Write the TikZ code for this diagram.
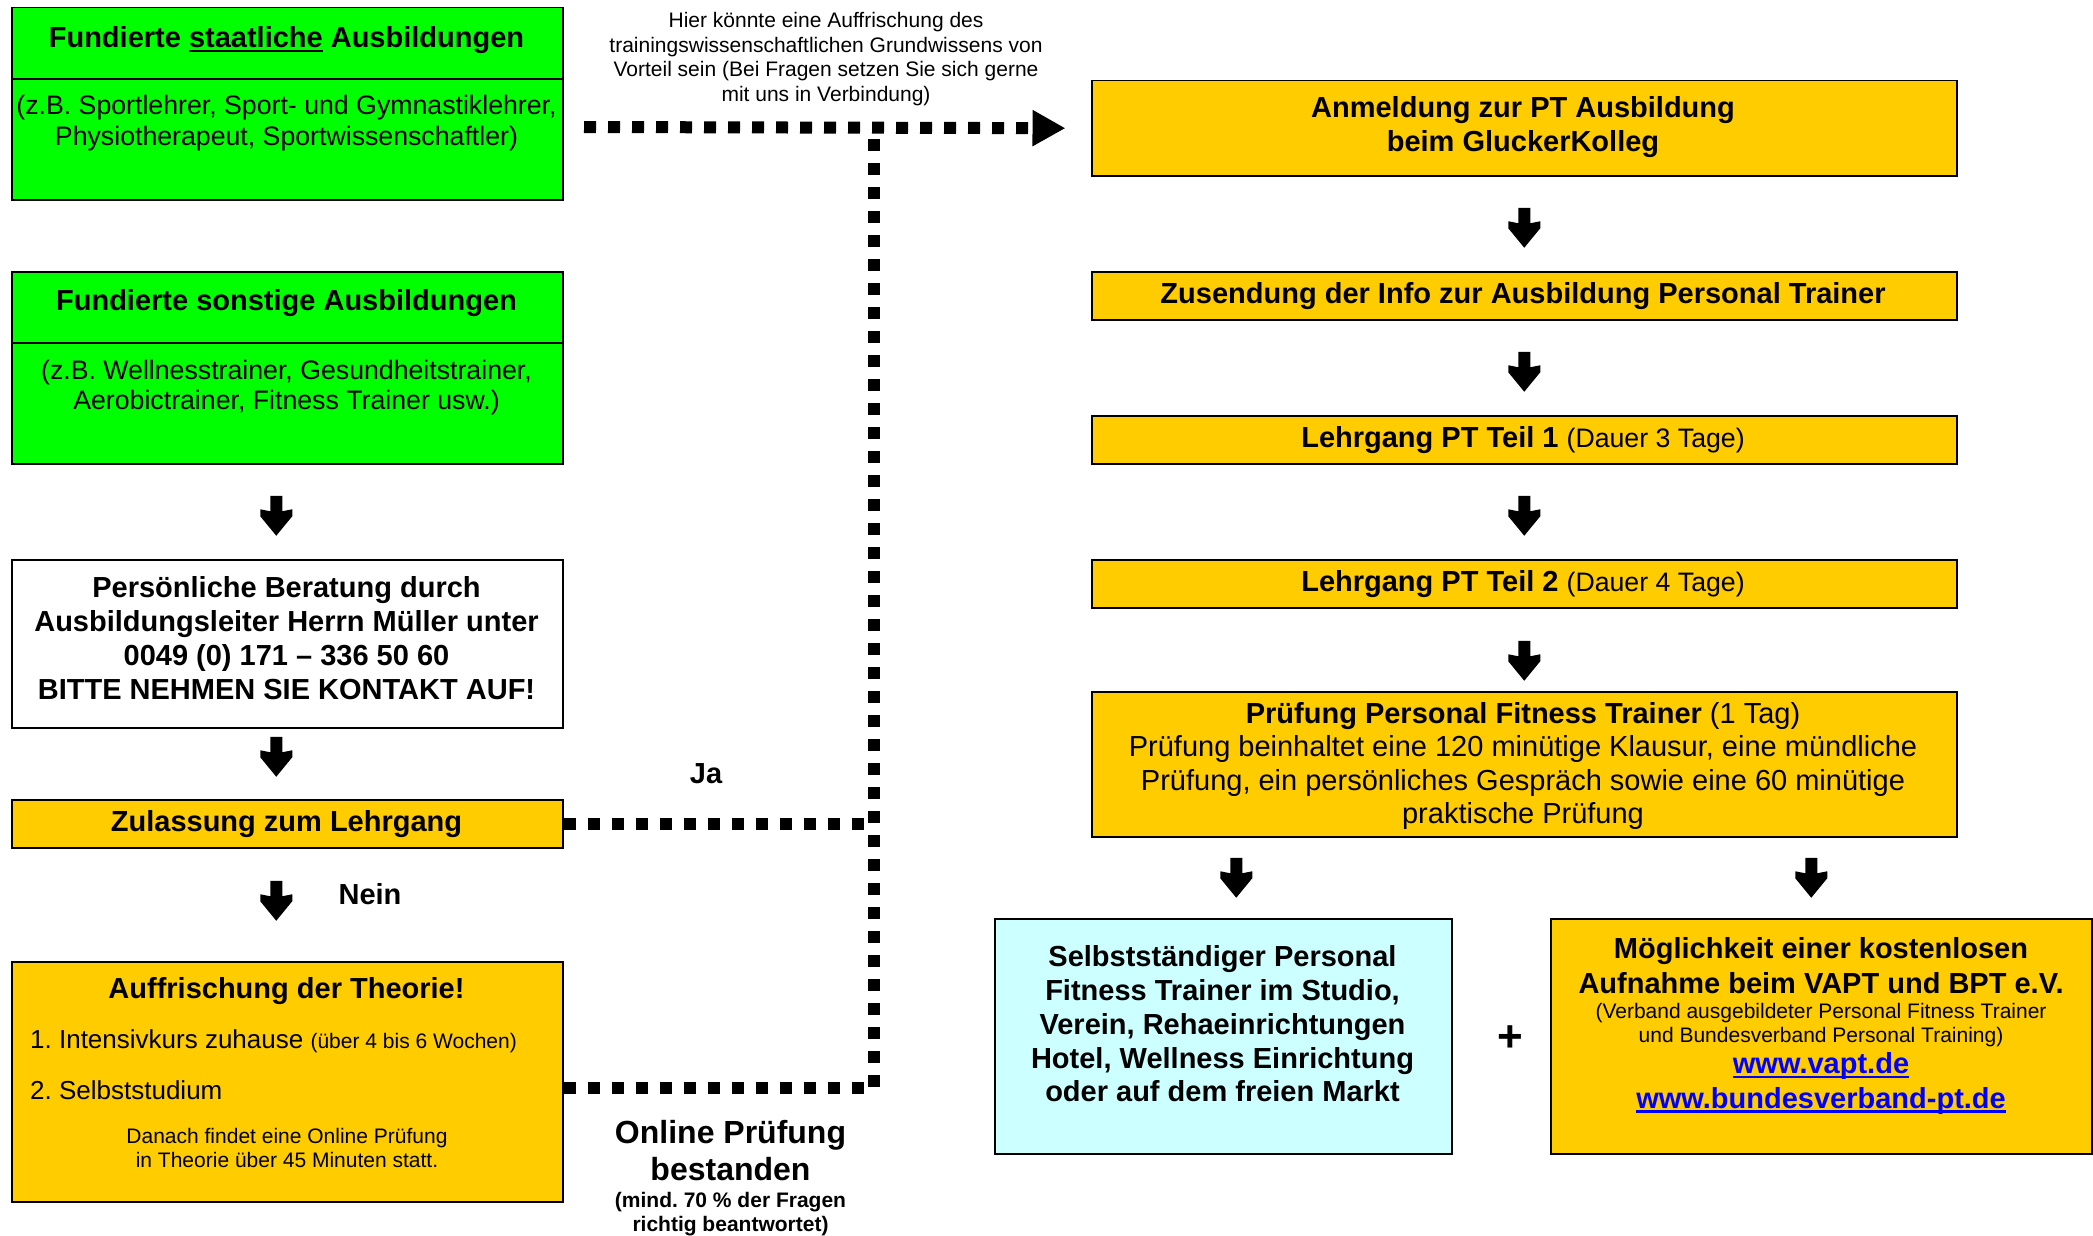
\documentclass[tikz,border=0pt]{standalone}
\usepackage{fontspec}
\setmainfont{Liberation Sans}
\usetikzlibrary{arrows.meta,calc}
\definecolor{ggreen}{RGB}{0,255,0}
\definecolor{ygold}{RGB}{255,204,0}
\definecolor{lcyan}{RGB}{204,255,255}
\definecolor{lblue}{RGB}{0,0,255}
\newcommand\szH{\fontsize{29}{34}\selectfont}
\newcommand\szR{\fontsize{26.7}{30.7}\selectfont}
\newcommand\szI{\fontsize{26}{30}\selectfont}
\newcommand\szS{\fontsize{21}{24.5}\selectfont}
\newcommand\szL{\fontsize{32}{37}\selectfont}
\newcommand\ulin[1]{\setbox0\hbox{#1}\rlap{\rule[-4.5pt]{\wd0}{2.3pt}}\box0\relax}
\frenchspacing
\begin{document}
\frenchspacing
\begin{tikzpicture}[x=1pt,y=-1pt,
  box/.style={draw=black, line width=1.5pt, rectangle, inner sep=0pt, anchor=north west},
  txt/.style={inner sep=0pt, align=center},
  dots/.style={line width=12pt, dash pattern=on 12pt off 12pt, black},
  blockarrow/.pic={\fill[black] (-6,-20) -- (6,-20) -- (6,-4.5) -- (16,-6.5) -- (16,0.5) -- (0,20) -- (-16,0.5) -- (-16,-6.5) -- (-6,-4.5) -- cycle;}
]
\useasboundingbox (0,0) rectangle (2093,1236);

% ---------- left column ----------
\node[box, fill=ggreen, minimum width=551pt, minimum height=192pt] (b1) at (11,7) {};
\draw[line width=1.5pt] ($(b1.north west)+(0,72)$) -- ($(b1.north east)+(0,72)$);
\node[txt, font=\szH\bfseries] (b1t) at (286.5,40) {Fundierte \ulin{staatliche} Ausbildungen};
\node[txt, font=\szR] (b1b) at (286.5,123) {(z.B. Sportlehrer, Sport- und Gymnastiklehrer,\\Physiotherapeut, Sportwissenschaftler)};

\node[box, fill=ggreen, minimum width=551pt, minimum height=192pt] (b2) at (11,271) {};
\draw[line width=1.5pt] ($(b2.north west)+(0,72)$) -- ($(b2.north east)+(0,72)$);
\node[txt, font=\szH\bfseries] (b2t) at (286.5,303) {Fundierte sonstige Ausbildungen};
\node[txt, font=\szR] (b2b) at (286.5,387.5) {(z.B. Wellnesstrainer, Gesundheitstrainer,\\Aerobictrainer, Fitness Trainer usw.)};

\node[box, fill=white, minimum width=551pt, minimum height=168pt] (b3) at (11,559) {};
\node[txt, font=\szH\bfseries] (b3t) at (286.5,638) {Persönliche Beratung durch\\Ausbildungsleiter Herrn Müller unter\\0049 (0) 171 – 336 50 60\\BITTE NEHMEN SIE KONTAKT AUF!};

\node[box, fill=ygold, minimum width=551pt, minimum height=48pt] (zul) at (11,799) {};
\node[txt, font=\szH\bfseries] (zult) at (286.5,824) {Zulassung zum Lehrgang};

\node[box, fill=ygold, minimum width=551pt, minimum height=240pt] (auf) at (11,961) {};
\node[txt, font=\szH\bfseries] (auft) at (286.5,991) {Auffrischung der Theorie!};
\node[txt, font=\szI, anchor=west] (auf1) at (30,1041) {1. Intensivkurs zuhause {\szS (über 4 bis 6 Wochen)}};
\node[txt, font=\szI, anchor=west] (auf2) at (30,1090) {2. Selbststudium};
\node[txt, font=\szS] (auf3) at (287,1148) {Danach findet eine Online Prüfung\\in Theorie über 45 Minuten statt.};

\node[txt, font=\szH\bfseries] (nein) at (370,894) {Nein};
\node[txt, font=\szH\bfseries] (ja) at (706,774) {Ja};

\node[txt, font=\szS] (hint) at (826,59) {Hier könnte eine Auffrischung des\\trainingswissenschaftlichen Grundwissens von\\Vorteil sein (Bei Fragen setzen Sie sich gerne\\mit uns in Verbindung)};

\node[txt, font=\szL\bfseries] (online) at (730.5,1150.5) {Online Prüfung\\bestanden};
\node[txt, font=\szS\bfseries] (onlines) at (730.5,1214) {(mind. 70 \% der Fragen\\richtig beantwortet)};

% ---------- right column ----------
\node[box, fill=ygold, minimum width=865pt, minimum height=95pt] (anm) at (1091,80) {};
\node[txt, font=\szH\bfseries] (anmt) at (1523,127) {Anmeldung zur PT Ausbildung\\beim GluckerKolleg};

\node[box, fill=ygold, minimum width=865pt, minimum height=48pt] (zus) at (1091,271) {};
\node[txt, font=\szH\bfseries] (zust) at (1523,296) {Zusendung der Info zur Ausbildung Personal Trainer};

\node[box, fill=ygold, minimum width=865pt, minimum height=48pt] (t1) at (1091,415) {};
\node[txt, font=\szH] (t1t) at (1523,440) {\textbf{Lehrgang PT Teil 1} {\szR (Dauer 3 Tage)}};

\node[box, fill=ygold, minimum width=865pt, minimum height=48pt] (t2) at (1091,559) {};
\node[txt, font=\szH] (t2t) at (1523,584) {\textbf{Lehrgang PT Teil 2} {\szR (Dauer 4 Tage)}};

\node[box, fill=ygold, minimum width=865pt, minimum height=145pt] (pr) at (1091,691) {};
\node[txt, font=\fontsize{29}{33.4}\selectfont] (prt) at (1523,766) {\textbf{Prüfung Personal Fitness Trainer} (1 Tag)\\Prüfung beinhaltet eine 120 minütige Klausur, eine mündliche\\Prüfung, ein persönliches Gespräch sowie eine 60 minütige\\praktische Prüfung};

\node[box, fill=lcyan, minimum width=457pt, minimum height=235pt] (cy) at (994,918) {};
\node[txt, font=\fontsize{29}{33.7}\selectfont\bfseries] (cyt) at (1222.5,1024) {Selbstständiger Personal\\Fitness Trainer im Studio,\\Verein, Rehaeinrichtungen\\Hotel, Wellness Einrichtung\\oder auf dem freien Markt};

\node[txt, font=\fontsize{44}{48}\selectfont\bfseries] (plus) at (1510,1039) {+};

\node[box, fill=ygold, minimum width=541pt, minimum height=235pt] (rb) at (1550,918) {};
\node[txt, font=\fontsize{29}{35}\selectfont\bfseries] (rbt) at (1821,966) {Möglichkeit einer kostenlosen\\Aufnahme beim VAPT und BPT e.V.};
\node[txt, font=\szS] (rbs) at (1821,1025) {(Verband ausgebildeter Personal Fitness Trainer\\und Bundesverband Personal Training)};
\node[txt, font=\szH\bfseries, text=lblue] (url1) at (1821,1066) {\ulin{www.vapt.de}};
\node[txt, font=\szH\bfseries, text=lblue] (url2) at (1821,1100.5) {\ulin{www.bundesverband-pt.de}};

% ---------- block arrows ----------
\pic at ($(b2.south)!0.5!(b3.north)+(-11,4)$) {blockarrow};
\pic at ($(b3.south)!0.5!(zul.north)+(-11,-7)$) {blockarrow};
\pic at ($(zul.south)!0.5!(auf.north)+(-11,-4)$) {blockarrow};
\pic at ($(anm.south)!0.5!(zus.north)+(0,4)$) {blockarrow};
\pic at ($(zus.south)!0.5!(t1.north)+(0,4)$) {blockarrow};
\pic at ($(t1.south)!0.5!(t2.north)+(0,4)$) {blockarrow};
\pic at ($(t2.south)!0.5!(pr.north)+(0,11)$) {blockarrow};
\pic at ($(pr.south -| cy.north)!0.5!(cy.north)+(13,0)$) {blockarrow};
\pic at ($(pr.south -| rb.north)!0.5!(rb.north)+(-10,0)$) {blockarrow};

% ---------- dotted connectors ----------
\coordinate (tstart) at (584,127);
\coordinate (vtop) at (874,127);
\coordinate (aufout) at ($(auf.east)+(0,6.5)$);
\draw[dots, -{Triangle[width=34pt,length=33pt]}, shorten >=25.5pt] (tstart) -- (anm.west);
\draw[dots] (aufout) -- (aufout -| vtop) -- (vtop);
\draw[dots] (zul.east) -- (zul.east -| vtop);
\end{tikzpicture}
\end{document}
